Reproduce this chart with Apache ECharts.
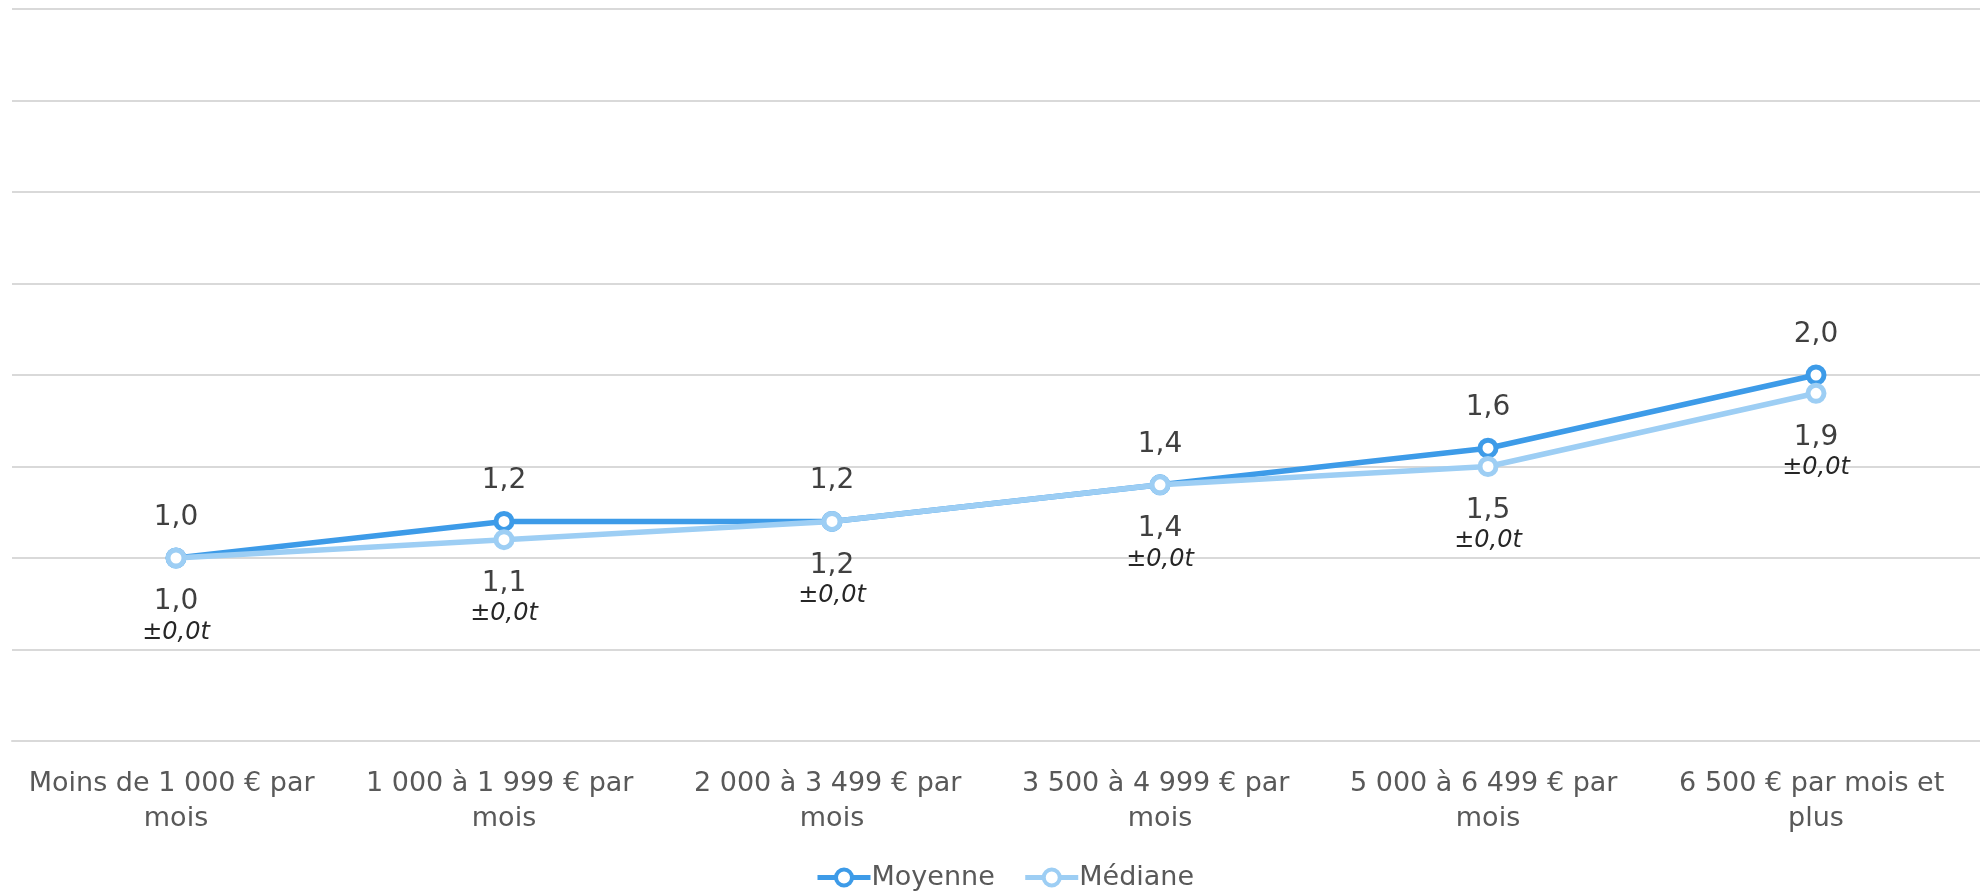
<!DOCTYPE html>
<html>
<head>
<meta charset="utf-8">
<script src="https://cdn.jsdelivr.net/npm/echarts@6/dist/echarts.min.js"></script>
<style>html,body{margin:0;padding:0;background:#fff}#c{width:1980px;height:896px}</style>
</head>
<body>
<div id="c"></div>
<script>
const categories = [
  "Moins de 1 000 € par mois",
  "1 000 à 1 999 € par mois",
  "2 000 à 3 499 € par mois",
  "3 500 à 4 999 € par mois",
  "5 000 à 6 499 € par mois",
  "6 500 € par mois et plus"
];
const moyenne = [1.0, 1.2, 1.2, 1.4, 1.6, 2.0];
const mediane = [1.0, 1.1, 1.2, 1.4, 1.5, 1.9];
const medianeMargins = ["±0,0t", "±0,0t", "±0,0t", "±0,0t", "±0,0t", "±0,0t"];
const yTicks = [0, 0.5, 1, 1.5, 2, 2.5, 3, 3.5, 4];

const FONT = "DejaVu Sans";
const C1 = '#3d9be8';
const C2 = '#9dcef4';
const fmt = v => v.toFixed(1).replace('.', ',');

const chart = echarts.init(document.getElementById('c'));
chart.setOption({
  animation: false,
  backgroundColor: '#ffffff',
  textStyle: { fontFamily: FONT },
  grid: { left: 12, right: -14, top: 9, bottom: 155, containLabel: false },
  legend: {
    bottom: 0,
    left: 810,
    itemWidth: 53,
    itemHeight: 20,
    itemGap: 28,
    lineStyle: { width: 5 },
    itemStyle: { borderWidth: 4 },
    textStyle: { fontFamily: FONT, fontSize: 27, color: '#595959', padding: [0, 0, 0, -4] },
    data: ['Moyenne', 'Médiane']
  },
  xAxis: {
    type: 'category',
    data: categories,
    boundaryGap: true,
    axisLine: { show: true, lineStyle: { color: '#d9d9d9', width: 2 } },
    axisTick: { show: false },
    axisLabel: {
      fontFamily: FONT, fontSize: 27, color: '#595959',
      margin: 25, lineHeight: 35, width: 320, overflow: 'break', interval: 0
    }
  },
  yAxis: {
    type: 'value',
    min: yTicks[0], max: yTicks[yTicks.length - 1], interval: 0.5,
    axisLabel: { show: false },
    axisLine: { show: false },
    axisTick: { show: false },
    splitLine: { show: true, lineStyle: { color: '#d9d9d9', width: 2 } }
  },
  series: [
    {
      name: 'Moyenne',
      type: 'line',
      data: moyenne,
      symbol: 'circle',
      symbolSize: 16,
      itemStyle: { color: '#ffffff', borderColor: C1, borderWidth: 5 },
      lineStyle: { color: C1, width: 5.5 },
      label: {
        show: true, position: 'top', distance: 15,
        formatter: p => fmt(p.value),
        fontFamily: FONT, fontSize: 28, color: '#404040', lineHeight: 30
      },
      z: 2
    },
    {
      name: 'Médiane',
      type: 'line',
      data: mediane,
      symbol: 'circle',
      symbolSize: 16,
      itemStyle: { color: '#ffffff', borderColor: C2, borderWidth: 5 },
      lineStyle: { color: C2, width: 5.5 },
      label: {
        show: true, position: 'bottom', distance: 18,
        formatter: p => '{a|' + fmt(p.value) + '}\n{b|' + medianeMargins[p.dataIndex] + '}',
        rich: {
          a: { fontFamily: FONT, fontSize: 28, color: '#404040', lineHeight: 31, align: 'center' },
          b: { fontFamily: FONT, fontSize: 24, fontStyle: 'italic', color: '#262626', lineHeight: 30, align: 'center' }
        }
      },
      z: 3
    }
  ]
});
</script>
</body>
</html>
